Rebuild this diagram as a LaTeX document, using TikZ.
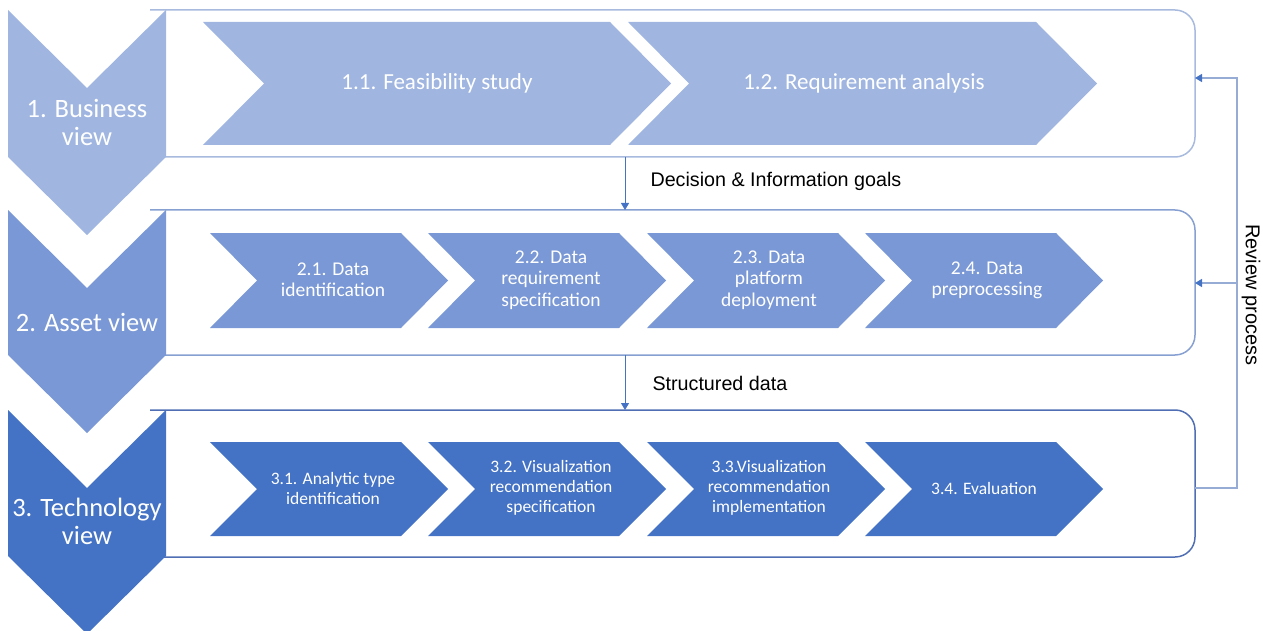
\documentclass[tikz,border=0pt]{standalone}
\usepackage{fontspec}
\setmainfont{Carlito}
\newfontfamily\arialf{Liberation Sans}
\usetikzlibrary{arrows.meta}
\definecolor{cA}{RGB}{160,182,225}
\definecolor{cB}{RGB}{122,152,213}
\definecolor{cC}{RGB}{68,114,196}
\definecolor{bA}{RGB}{168,186,222}
\definecolor{bB}{RGB}{135,160,210}
\definecolor{bC}{RGB}{80,110,180}
\definecolor{rv}{RGB}{150,172,212}
\definecolor{ar}{RGB}{68,114,196}
\newcommand\chevR[6]{\fill[#1] (#2,#4) -- ({#3-#6},#4) -- (#3,{(#4+#5)/2}) -- ({#3-#6},#5) -- (#2,#5) -- ({#2+#6},{(#4+#5)/2}) -- cycle;}
\newcommand\chevD[5]{\fill[#1] (#2,#4) -- ({(#2+#3)/2},{#4+78}) -- (#3,#4) -- (#3,#5) -- ({(#2+#3)/2},{#5+78}) -- (#2,#5) -- cycle;}
\tikzset{
  viewbox/.style={line width=1.5pt, rounded corners=20pt},
  lefttxt/.style={text=white, align=center, font=\fontsize{26.5}{28}\selectfont},
  toptxt/.style={text=white, align=center, font=\fontsize{23}{28}\selectfont},
  midtxt/.style={text=white, align=center, font=\fontsize{19.5}{21.3}\selectfont},
  lowtxt/.style={text=white, align=center, font=\fontsize{17.5}{20}\selectfont},
  flowlbl/.style={anchor=west, text=black, font=\arialf\fontsize{19.7}{22}\selectfont},
  flowarr/.style={draw=ar, line width=1pt, -{Triangle[width=8pt,length=7pt]}},
  revline/.style={draw=rv, line width=1.2pt},
  revarr/.style={revline, -{Triangle[width=8pt,length=7pt,color=ar]}},
}
\begin{document}
\begin{tikzpicture}[x=1pt,y=-1pt]
\useasboundingbox (0,0) rectangle (1263,631);
% view boxes
\draw[viewbox, bA] (150,10) -- (1195,10) -- (1195,157) -- (150,157);
\draw[viewbox, bB] (150,210) -- (1195,210) -- (1195,355) -- (150,355);
\draw[viewbox, bC] (150,410) -- (1195,410) -- (1195,557) -- (150,557);
% left chevrons
\chevD{cA}{8}{166}{10}{157}
\chevD{cB}{8}{166}{210}{355}
\chevD{cC}{8}{166}{410}{556}
\node[lefttxt] (v1) at (87,122) {1. Business\\view};
\node[lefttxt] (v2) at (87,322) {2. Asset view};
\node[lefttxt] (v3) at (87,521) {3. Technology\\view};
% row 1
\chevR{cA}{203}{671}{22}{145}{61}
\chevR{cA}{628}{1097}{22}{145}{61}
\node[toptxt] (s11) at (437,83) {1.1. Feasibility study};
\node[toptxt] (s12) at (864,83) {1.2. Requirement analysis};
% row 2
\chevR{cB}{210}{448}{233}{328}{47}
\chevR{cB}{428}{666}{233}{328}{47}
\chevR{cB}{647}{885}{233}{328}{47}
\chevR{cB}{865}{1103}{233}{328}{47}
\node[midtxt] (s21) at (333,280) {2.1. Data\\identification};
\node[midtxt] (s22) at (551,280) {2.2. Data\\requirement\\specification};
\node[midtxt] (s23) at (769,280) {2.3. Data\\platform\\deployment};
\node[midtxt] (s24) at (987,280) {2.4. Data\\preprocessing};
% row 3
\chevR{cC}{210}{448}{442}{536}{47}
\chevR{cC}{428}{666}{442}{536}{47}
\chevR{cC}{647}{885}{442}{536}{47}
\chevR{cC}{865}{1103}{442}{536}{47}
\node[lowtxt] (s31) at (333,488) {3.1. Analytic type\\identification};
\node[lowtxt] (s32) at (551,488) {3.2. Visualization\\recommendation\\specification};
\node[lowtxt] (s33) at (769,488) {3.3.Visualization\\recommendation\\implementation};
\node[lowtxt] (s34) at (984,488) {3.4. Evaluation};
% connector anchors
\coordinate (b1bot) at (625,157);
\coordinate (b2top) at (625,210);
\coordinate (b2bot) at (625,355);
\coordinate (b3top) at (625,410);
\coordinate (b1r) at (1195,78);
\coordinate (b2r) at (1195,283);
\coordinate (b3r) at (1195,488);
\coordinate (rvc) at (1237,488);
\coordinate (rvj) at (1237,283);
% flow arrows
\draw[flowarr] (b1bot) -- (b2top);
\draw[flowarr] (b2bot) -- (b3top);
\node[flowlbl] (l1) at (647,181) {Decision \& Information goals};
\node[flowlbl] (l2) at (649,383) {Structured data};
% review process
\draw[revline] (b3r) -- (rvc) -- (rvj);
\draw[revarr] (rvj) |- (b1r);
\draw[revarr] (rvj) -- (b2r);
\node[rotate=-90, text=black, font=\arialf\fontsize{20}{22}\selectfont] (rl) at (1251,295) {Review process};
\end{tikzpicture}
\end{document}
